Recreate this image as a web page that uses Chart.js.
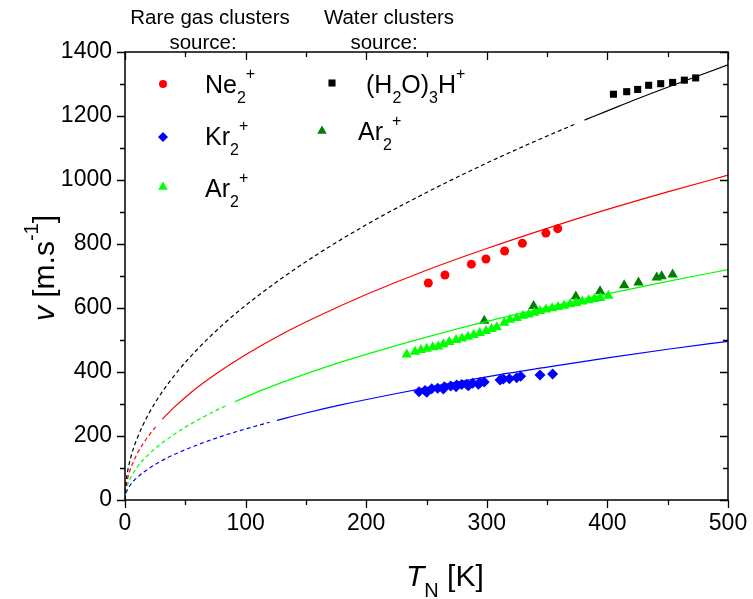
<!DOCTYPE html>
<html>
<head>
<meta charset="utf-8">
<script src="https://cdn.jsdelivr.net/npm/chart.js@4.4.1/dist/chart.umd.min.js"></script>
<style>
  html, body { margin: 0; padding: 0; background: #fff; }
  #wrap { width: 753px; height: 599px; position: relative; }
</style>
</head>
<body>
<div id="wrap"><canvas id="chartcontainer"></canvas></div>
<script>
// model curves (T in K, v in m/s)
var blackDashT = [0, 0.5, 1, 2, 3.5, 5, 7.5, 10, 15, 20, 30, 45, 60, 80, 100, 130, 160, 200, 250, 300, 340, 374];
var blackDashV = [0, 43, 61, 86, 114, 136, 167, 192, 235, 272, 333, 408, 471, 544, 608, 693, 769, 860, 961, 1053, 1121, 1176];
var blackSolidT = [381, 400, 425, 450, 475, 500];
var blackSolidV = [1187, 1216, 1254, 1290, 1325, 1360];

var redDashT = [0, 0.5, 1, 2, 3.5, 5, 7.5, 10, 15, 20, 26];
var redDashV = [0, 32, 45, 64, 85, 102, 124, 144, 176, 203, 231];
var redSolidT = [31, 40, 55, 75, 100, 130, 160, 200, 250, 300, 350, 400, 450, 500];
var redSolidV = [253, 287, 337, 393, 454, 518, 574, 642, 718, 786, 849, 908, 963, 1015];

var greenDashT = [0, 0.5, 1, 2, 3.5, 5, 7.5, 10, 15, 20, 30, 45, 60, 75, 84];
var greenDashV = [0, 23, 32, 46, 60, 72, 88, 102, 125, 144, 176, 216, 249, 279, 295];
var greenSolidT = [91, 110, 140, 170, 200, 250, 300, 350, 400, 450, 500];
var greenSolidV = [307, 338, 381, 420, 455, 509, 558, 602, 644, 683, 720];

var blueDashT = [0, 0.5, 1, 2, 3.5, 5, 7.5, 10, 15, 20, 30, 45, 60, 80, 100, 120];
var blueDashV = [0, 16, 22, 31, 42, 50, 61, 70, 86, 99, 122, 149, 172, 199, 222, 243];
var blueSolidT = [126, 150, 180, 220, 260, 300, 350, 400, 450, 500];
var blueSolidV = [249, 272, 298, 329, 358, 385, 415, 444, 471, 496];

// measured points
var ne2T = [251.5, 265.3, 287.2, 299.3, 314.8, 329.5, 349, 358.8];
var ne2V = [678, 703, 737, 753, 778, 802, 834, 848];

var kr2T = [243.8, 248.8, 250.2, 254.3, 259.3, 264, 264.8, 270.1, 274.5, 275, 279.2, 283.3, 284.7, 288.3, 293, 294.4, 297.9, 311, 313.7, 318.7, 324.8, 328.1, 344.1, 354.6];
var kr2V = [338, 342, 337, 348, 349, 347, 354, 356, 354, 359, 361, 362, 357, 365, 362, 367, 369, 375, 378, 379, 382, 387, 391, 394];

var ar2T = [233.6, 240.5, 245.4, 250.2, 255.1, 259.8, 264, 268.9, 274.5, 279.4, 284.4, 289.1, 294.1, 299.3, 304, 308.2, 314.5, 319.2, 324.8, 330, 334.7, 339.4, 344.1, 349.1, 354.1, 359, 364, 369, 374, 379.2, 384.5, 389.2, 394.1, 400.8];
var ar2V = [455, 463, 469, 473, 477, 480, 487, 494, 500, 505, 510, 516, 522, 528, 534, 540, 554, 563, 569, 576, 580, 585, 591, 595, 599, 603, 607, 612, 616, 620, 624, 628, 631, 638];

var ar2wT = [297.9, 338.8, 373.8, 393.9, 413.9, 425.8, 440.9, 445, 454.1];
var ar2wV = [560, 606, 636, 652, 671, 680, 695, 699, 705];

var h2oT = [405, 416, 425.1, 434.2, 444.2, 454.1, 463.8, 473.2];
var h2oV = [1268, 1276, 1283, 1296, 1301, 1305, 1312, 1319];

var xTicks = [0, 100, 200, 300, 400, 500];
var yTicks = [0, 200, 400, 600, 800, 1000, 1200, 1400];

var FONT = "'Liberation Sans', Arial, sans-serif";

function pts(xs, ys) {
    var out = [];
    for (var i = 0; i < xs.length; i++) out.push({x: xs[i], y: ys[i]});
    return out;
}

function curve(xs, ys, color, dashed) {
    return {
        type: 'line',
        data: pts(xs, ys),
        borderColor: color,
        borderWidth: 1.2,
        borderDash: dashed ? [4, 3] : [],
        pointRadius: 0,
        showLine: true,
        fill: false,
        cubicInterpolationMode: 'monotone'
    };
}

function marks(xs, ys, color, style, r) {
    return {
        type: 'scatter',
        data: pts(xs, ys),
        backgroundColor: color,
        borderColor: color,
        borderWidth: 0,
        pointStyle: style,
        pointRadius: r,
        pointHoverRadius: r
    };
}

// text with sub/superscripts
function drawRich(ctx, parts, x, y, size) {
    var small = Math.round(size * 0.65);
    for (var i = 0; i < parts.length; i++) {
        var p = parts[i];
        var yy = y;
        if (p.sub) { ctx.font = small + 'px ' + FONT; yy = y + size * 0.38; }
        else if (p.sup) { ctx.font = small + 'px ' + FONT; yy = y - size * 0.55; }
        else { ctx.font = (p.italic ? 'italic ' : '') + size + 'px ' + FONT; }
        ctx.fillText(p.t, x, yy);
        x += ctx.measureText(p.t).width;
    }
    return x;
}

function richWidth(ctx, parts, size) {
    var small = Math.round(size * 0.65), w = 0;
    parts.forEach(function(p) {
        ctx.font = (p.sub || p.sup ? small + 'px ' : (p.italic ? 'italic ' : '') + size + 'px ') + FONT;
        w += ctx.measureText(p.t).width;
    });
    return w;
}

var frame = {
    id: 'frame',
    afterDraw: function(chart) {
        var ctx = chart.ctx, a = chart.chartArea;
        var xs = chart.scales.x, ys = chart.scales.y;
        ctx.save();
        ctx.strokeStyle = '#000';
        ctx.lineWidth = 1.5;
        ctx.strokeRect(a.left, a.top, a.right - a.left, a.bottom - a.top);
        ctx.lineWidth = 1.3;
        ctx.beginPath();
        for (var t = 0; t <= 500; t += 50) {
            var px = Math.round(xs.getPixelForValue(t)) + 0.5;
            var L = t % 100 === 0 ? 8 : 5;
            ctx.moveTo(px, a.bottom); ctx.lineTo(px, a.bottom + L);
            ctx.moveTo(px, a.top); ctx.lineTo(px, a.top + L);
        }
        for (var v = 0; v <= 1400; v += 100) {
            var py = Math.round(ys.getPixelForValue(v)) + 0.5;
            var M = v % 200 === 0 ? 8 : 5;
            ctx.moveTo(a.left, py); ctx.lineTo(a.left - M, py);
            ctx.moveTo(a.right, py); ctx.lineTo(a.right - M, py);
        }
        ctx.stroke();

        ctx.fillStyle = '#000';
        ctx.textBaseline = 'alphabetic';
        // column headers
        ctx.font = '20.5px ' + FONT;
        ctx.textAlign = 'center';
        ctx.fillText('Rare gas clusters', 210, 24);
        ctx.fillText('source:', 203, 49);
        ctx.fillText('Water clusters', 389, 24);
        ctx.fillText('source:', 384, 49);

        // legend
        ctx.textAlign = 'left';
        var items = [
            {style: 'circle', color: '#ff0000', r: 4, mx: 163, my: 84, tx: 205, ty: 93, parts: [{t: 'Ne'}, {t: '2', sub: true}, {t: '+', sup: true}]},
            {style: 'rectRot', color: '#0000ff', r: 5, mx: 163, my: 137, tx: 205, ty: 145, parts: [{t: 'Kr'}, {t: '2', sub: true}, {t: '+', sup: true}]},
            {style: 'triangle', color: '#00ff00', r: 5.5, mx: 163, my: 187, tx: 205, ty: 197, parts: [{t: 'Ar'}, {t: '2', sub: true}, {t: '+', sup: true}]},
            {style: 'rect', color: '#000000', r: 5, mx: 332, my: 83, tx: 366, ty: 93, parts: [{t: '(H'}, {t: '2', sub: true}, {t: 'O)'}, {t: '3', sub: true}, {t: 'H'}, {t: '+', sup: true}]},
            {style: 'triangle', color: '#008000', r: 5.5, mx: 322, my: 131, tx: 358, ty: 140, parts: [{t: 'Ar'}, {t: '2', sub: true}, {t: '+', sup: true}]}
        ];
        items.forEach(function(c) {
            ctx.save();
            ctx.fillStyle = c.color;
            Chart.helpers.drawPoint(ctx, {pointStyle: c.style, radius: c.r, rotation: 0, borderWidth: 0}, c.mx, c.my);
            ctx.restore();
            ctx.fillStyle = '#000';
            drawRich(ctx, c.parts, c.tx, c.ty, 25);
        });

        // axis titles
        drawRich(ctx, [{t: 'T', italic: true}, {t: 'N', sub: true}, {t: ' [K]'}], 406, 586, 30);

        ctx.translate(54, 268);
        ctx.rotate(-Math.PI / 2);
        var parts = [{t: 'v', italic: true}, {t: ' [m.s'}, {t: '-1', sup: true}, {t: ']'}];
        var tw = richWidth(ctx, parts, 30);
        drawRich(ctx, parts, -tw / 2, 0, 30);
        ctx.restore();
    }
};

var ctx = document.getElementById('chartcontainer').getContext('2d');
var chart = new Chart(ctx, {
    type: 'scatter',
    data: {
        datasets: [
            curve(blackDashT, blackDashV, '#000000', true),
            curve(blackSolidT, blackSolidV, '#000000', false),
            curve(redDashT, redDashV, '#ff0000', true),
            curve(redSolidT, redSolidV, '#ff0000', false),
            curve(greenDashT, greenDashV, '#00ff00', true),
            curve(greenSolidT, greenSolidV, '#00ff00', false),
            curve(blueDashT, blueDashV, '#0000ff', true),
            curve(blueSolidT, blueSolidV, '#0000ff', false),
            marks(ne2T, ne2V, '#ff0000', 'circle', 4.5),
            marks(kr2T, kr2V, '#0000ff', 'rectRot', 5.5),
            marks(ar2T, ar2V, '#00ff00', 'triangle', 6),
            marks(ar2wT, ar2wV, '#008000', 'triangle', 6),
            marks(h2oT, h2oV, '#000000', 'rect', 5)
        ]
    },
    options: {
        responsive: true,
        maintainAspectRatio: false,
        animation: false,
        layout: { padding: { top: 52, right: 25, left: 0, bottom: 0 } },
        plugins: {
            legend: { display: false },
            tooltip: { enabled: false }
        },
        scales: {
            x: {
                type: 'linear',
                min: 0,
                max: 500,
                grid: { display: false, drawTicks: false },
                border: { display: false },
                afterFit: function(scale) {
                    scale.height = 99;
                    scale.paddingLeft = 0;
                    scale.paddingRight = 0;
                },
                ticks: {
                    stepSize: 100,
                    autoSkip: false,
                    maxRotation: 0,
                    padding: 10,
                    color: '#000',
                    font: { family: FONT, size: 23 },
                    callback: function(v) { return xTicks.indexOf(v) >= 0 ? v : ''; }
                }
            },
            y: {
                type: 'linear',
                min: 0,
                max: 1400,
                grid: { display: false, drawTicks: false },
                border: { display: false },
                afterFit: function(scale) {
                    scale.width = 125;
                    scale.paddingTop = 0;
                    scale.paddingBottom = 0;
                },
                ticks: {
                    stepSize: 200,
                    autoSkip: false,
                    padding: 13,
                    color: '#000',
                    font: { family: FONT, size: 23 },
                    callback: function(v) { return yTicks.indexOf(v) >= 0 ? v : ''; }
                }
            }
        }
    },
    plugins: [frame]
});
</script>
</body>
</html>
